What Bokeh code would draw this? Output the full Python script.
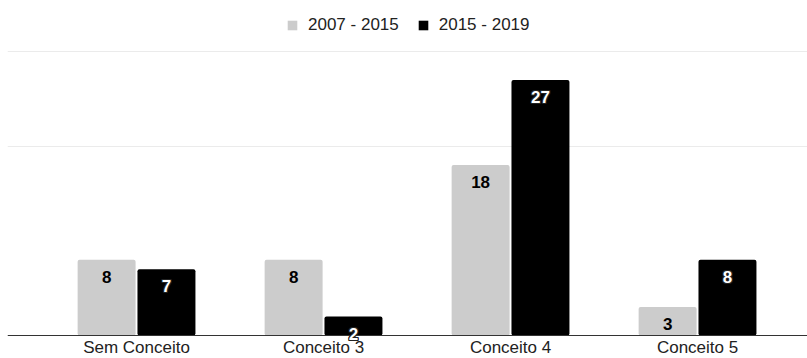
from bokeh.plotting import figure
from bokeh.models import Range1d, FixedTicker, ColumnDataSource, Legend, LegendItem
from bokeh.core.properties import value
from bokeh.embed import file_html
from bokeh.resources import INLINE

categories = ["Sem Conceito", "Conceito 3", "Conceito 4", "Conceito 5"]
series_names = ["2007 - 2015", "2015 - 2019"]
values_2007_2015 = [8, 8, 18, 3]
values_2015_2019 = [7, 2, 27, 8]
grid_ticks = [20, 30]
baseline_value = [0]

GRAY = "#cccccc"
BLACK = "#000000"
FONT = "Liberation Sans"

idx = list(range(len(categories)))
off = 0.16
bw = 0.31

p = figure(width=807, height=358, output_backend="svg", toolbar_location=None,
           x_range=Range1d(-0.690, 3.588), y_range=Range1d(-2.43, 35.39),
           min_border_left=7, min_border_right=0, min_border_top=0, min_border_bottom=0)
p.outline_line_color = None
p.background_fill_color = "white"
p.border_fill_color = "white"
p.xaxis.visible = False
p.yaxis.visible = False

src1 = ColumnDataSource(dict(x=[i - off for i in idx], top=values_2007_2015,
                             lab=[str(v) for v in values_2007_2015]))
src2 = ColumnDataSource(dict(x=[i + off for i in idx], top=values_2015_2019,
                             lab=[str(v) for v in values_2015_2019]))
src_cat = ColumnDataSource(dict(x=idx, y=[0] * len(idx), lab=categories))

p.ygrid.ticker = FixedTicker(ticks=grid_ticks, minor_ticks=[])
p.ygrid.grid_line_color = "#ebebeb"
p.xgrid.visible = False

r1 = p.vbar(x="x", top="top", bottom=0, width=bw, source=src1, fill_color=GRAY,
            line_color=None, border_radius=2)
r2 = p.vbar(x="x", top="top", bottom=0, width=bw, source=src2, fill_color=BLACK,
            line_color=None, border_radius=2)

# baseline (drawn before the value labels so that the "2" sits over it)
p.hspan(y=baseline_value, line_color="#333333", line_width=1)

# category labels along the baseline
p.text(x="x", y="y", text="lab", source=src_cat, text_align="center", text_baseline="middle",
       y_offset=12, text_font=value(FONT), text_font_size="17px", text_color="#222222")

FS = "17px"
p.text(x="x", y="top", text="lab", source=src1, text_align="center", text_baseline="middle",
       y_offset=17, text_font=value(FONT), text_font_style="bold", text_font_size=FS,
       text_color="#000000")
for dx, dy in [(-1, -1), (-1, 0), (-1, 1), (0, -1), (0, 1), (1, -1), (1, 0), (1, 1)]:
    p.text(x="x", y="top", text="lab", source=src2, text_align="center", text_baseline="middle",
           x_offset=dx, y_offset=17 + dy, text_font=value(FONT), text_font_style="bold",
           text_font_size=FS, text_color="#222222")
p.text(x="x", y="top", text="lab", source=src2, text_align="center", text_baseline="middle",
       y_offset=17, text_font=value(FONT), text_font_style="bold", text_font_size=FS,
       text_color="#ffffff")

legend = Legend(items=[LegendItem(label=series_names[0], renderers=[r1]),
                       LegendItem(label=series_names[1], renderers=[r2])],
                orientation="horizontal", location=(279, 323), margin=0, padding=4,
                spacing=18, label_standoff=10, glyph_width=12, glyph_height=12,
                border_line_color=None, background_fill_alpha=0,
                label_text_font=FONT, label_text_font_size="17px", label_text_color="#222222")
p.add_layout(legend)

open("out.html", "w").write(file_html(p, INLINE))
